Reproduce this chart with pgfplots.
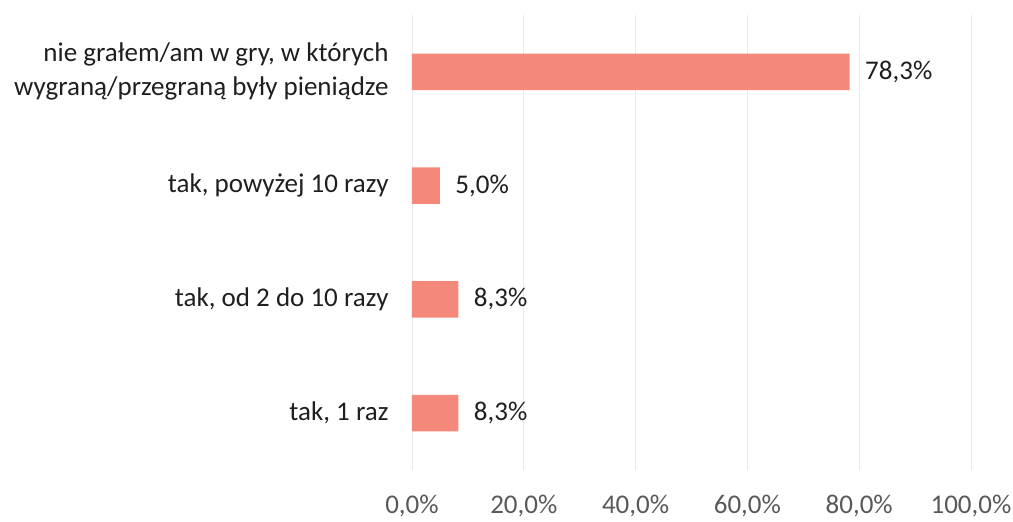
\documentclass[border=0pt]{standalone}
\usepackage{pgfplots}
\pgfplotsset{compat=1.18}
\usepackage{fontspec}
\setmainfont{Carlito}
\definecolor{barc}{HTML}{F4887A}
\definecolor{ticktext}{HTML}{595959}
\definecolor{cattext}{HTML}{1F1F1F}
\definecolor{gridc}{HTML}{EBEBEB}
\begin{document}
\begin{tikzpicture}
\useasboundingbox (0,0) rectangle (1013pt,522pt);
\begin{axis}[
  at={(412pt,52pt)}, anchor=south west,
  scale only axis, width=559pt, height=455pt,
  xbar, bar width=0.32,
  xmin=0, xmax=100, ymin=-0.5, ymax=3.5,
  xtick={0,20,40,60,80,100},
  ytick={0,1,2,3},
  yticklabels={{tak, 1 raz},{tak, od 2 do 10 razy},{tak, powyżej 10 razy},{nie grałem/am w gry, w których\\wygraną/przegraną były pieniądze}},
  xticklabel={\pgfmathprintnumber[fixed,fixed zerofill,precision=1,use comma,assume math mode=true]{\tick}\%},
  font=\fontsize{27}{34}\selectfont,
  xticklabel style={text=ticktext, yshift=-22pt},
  yticklabel style={text=cattext, align=right, xshift=-20pt},
  axis line style={draw=none},
  major tick length=0pt,
  xmajorgrids, ymajorgrids=false,
  grid style={draw=gridc, line width=0.8pt},
  nodes near coords={\pgfmathprintnumber[fixed,fixed zerofill,precision=1,use comma,assume math mode=true]{\pgfplotspointmeta}\%},
  nodes near coords style={text=cattext, anchor=west, xshift=12pt},
  point meta=x,
]
\addplot[draw=none, fill=barc] coordinates {(8.3,0) (8.3,1) (5.0,2) (78.3,3)};
\end{axis}
\end{tikzpicture}
\end{document}
